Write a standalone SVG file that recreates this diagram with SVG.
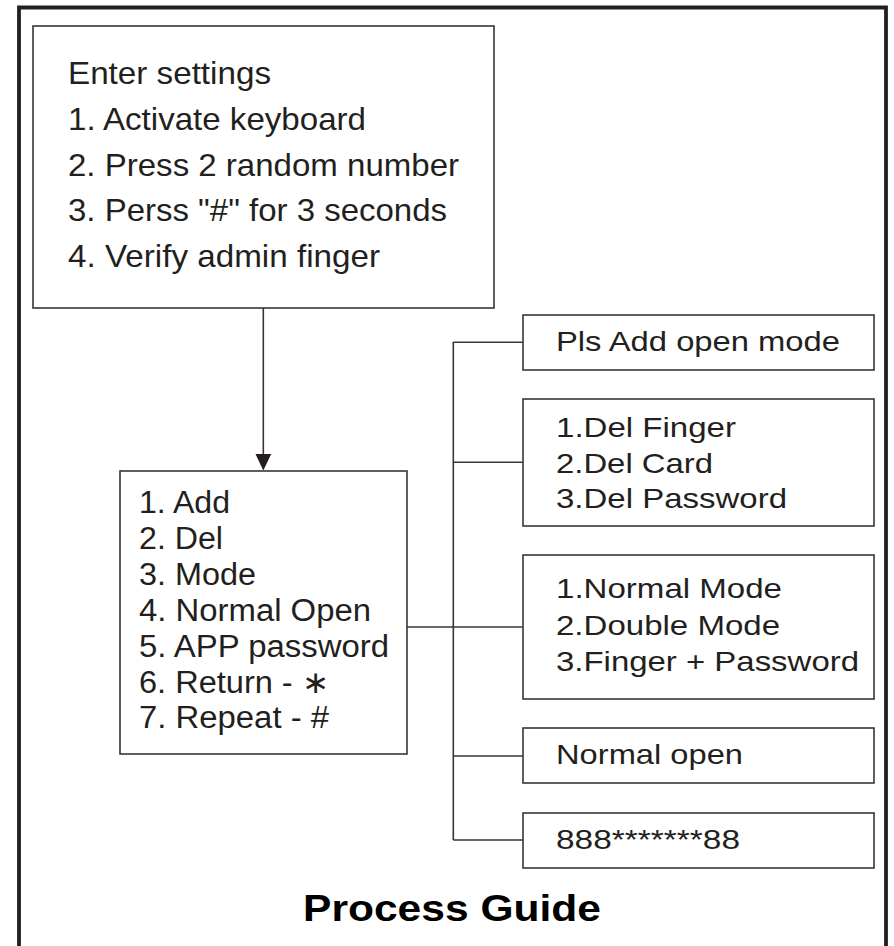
<svg xmlns="http://www.w3.org/2000/svg" width="894" height="946" viewBox="0 0 894 946">
<style>
.box{fill:#fff;stroke:#3a3536;stroke-width:1.6}
.ln{fill:none;stroke:#3a3536;stroke-width:1.6}
.t{font-family:"Liberation Sans",Arial,sans-serif;fill:#231f20}
.t1{font-size:30.5px}
.t2{font-size:31px}
.t3{font-size:28px}
.title{font-family:"Liberation Sans",Arial,sans-serif;font-size:36px;font-weight:bold;fill:#000}
</style>
<rect width="894" height="946" fill="#fff"/>
<path d="M19,950 V7.5 H886 V950" fill="none" stroke="#231f20" stroke-width="3.8"/>
<g id="connectors">
<line class="ln" x1="263.3" y1="308" x2="263.3" y2="456"/>
<polygon points="255.5,454 271.2,454 263.3,470.5" fill="#231f20"/>
<line class="ln" x1="407" y1="627" x2="523" y2="627"/>
<line class="ln" x1="453.3" y1="342" x2="453.3" y2="840"/>
<line class="ln" x1="453.3" y1="342.3" x2="523" y2="342.3"/>
<line class="ln" x1="453.3" y1="462.3" x2="523" y2="462.3"/>
<line class="ln" x1="453.3" y1="756" x2="523" y2="756"/>
<line class="ln" x1="453.3" y1="840" x2="523" y2="840"/>
</g>
<g id="enter-settings">
<rect class="box" x="33" y="26" width="461" height="282"/>
<text class="t t1" x="68" y="84" textLength="203" lengthAdjust="spacingAndGlyphs">Enter settings</text>
<text class="t t1" x="68" y="129.8" textLength="298" lengthAdjust="spacingAndGlyphs">1. Activate keyboard</text>
<text class="t t1" x="68" y="175.6" textLength="391" lengthAdjust="spacingAndGlyphs">2. Press 2 random number</text>
<text class="t t1" x="68" y="221.4" textLength="379" lengthAdjust="spacingAndGlyphs">3. Perss "#" for 3 seconds</text>
<text class="t t1" x="68" y="267.2" textLength="312" lengthAdjust="spacingAndGlyphs">4. Verify admin finger</text>
</g>
<g id="menu">
<rect class="box" x="120" y="471" width="287" height="283"/>
<text class="t t2" x="139" y="513.3" textLength="91" lengthAdjust="spacingAndGlyphs">1. Add</text>
<text class="t t2" x="139" y="549.3" textLength="84" lengthAdjust="spacingAndGlyphs">2. Del</text>
<text class="t t2" x="139" y="585" textLength="117" lengthAdjust="spacingAndGlyphs">3. Mode</text>
<text class="t t2" x="139" y="620.7" textLength="232" lengthAdjust="spacingAndGlyphs">4. Normal Open</text>
<text class="t t2" x="139" y="656.7" textLength="250" lengthAdjust="spacingAndGlyphs">5. APP password</text>
<text class="t t2" x="139" y="692.7" textLength="190" lengthAdjust="spacingAndGlyphs">6. Return - ∗</text>
<text class="t t2" x="139" y="728.3" textLength="190" lengthAdjust="spacingAndGlyphs">7. Repeat - #</text>
</g>
<g id="add">
<rect class="box" x="523" y="315" width="351" height="55"/>
<text class="t t3" x="556" y="350.7" textLength="284" lengthAdjust="spacingAndGlyphs">Pls Add open mode</text>
</g>
<g id="del">
<rect class="box" x="523" y="399" width="351" height="127"/>
<text class="t t3" x="556" y="436.7" textLength="180" lengthAdjust="spacingAndGlyphs">1.Del Finger</text>
<text class="t t3" x="556" y="473.3" textLength="157" lengthAdjust="spacingAndGlyphs">2.Del Card</text>
<text class="t t3" x="556" y="508.3" textLength="231" lengthAdjust="spacingAndGlyphs">3.Del Password</text>
</g>
<g id="mode">
<rect class="box" x="523" y="555" width="351" height="144"/>
<text class="t t3" x="556" y="598.3" textLength="226" lengthAdjust="spacingAndGlyphs">1.Normal Mode</text>
<text class="t t3" x="556" y="635" textLength="224" lengthAdjust="spacingAndGlyphs">2.Double Mode</text>
<text class="t t3" x="556" y="670.7" textLength="303" lengthAdjust="spacingAndGlyphs">3.Finger + Password</text>
</g>
<g id="normal-open">
<rect class="box" x="523" y="728" width="351" height="55"/>
<text class="t t3" x="556" y="764" textLength="187" lengthAdjust="spacingAndGlyphs">Normal open</text>
</g>
<g id="app-password">
<rect class="box" x="523" y="813" width="351" height="55"/>
<text class="t t3" x="556" y="849.3" textLength="184" lengthAdjust="spacingAndGlyphs">888*******88</text>
</g>
<text class="title" x="303" y="921" textLength="298" lengthAdjust="spacingAndGlyphs">Process Guide</text>
</svg>
